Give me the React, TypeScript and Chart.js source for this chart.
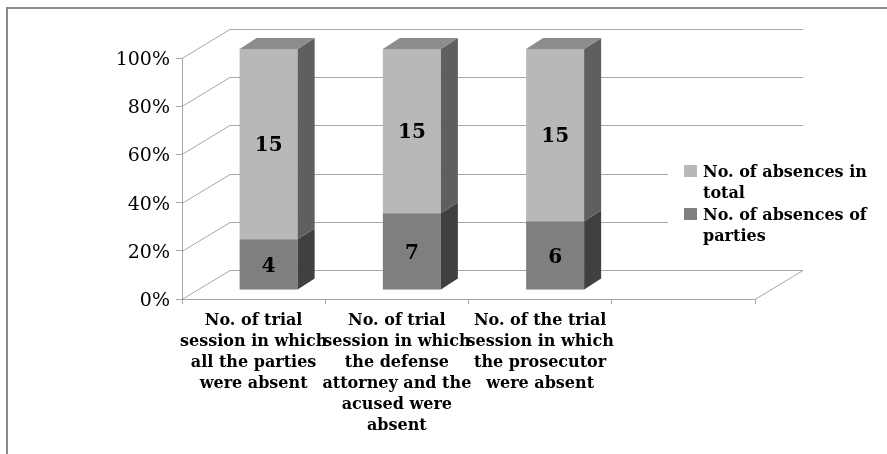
import React, { useEffect, useRef } from 'react';
import { Chart, registerables } from 'chart.js';

Chart.register(...registerables);

// Categories (the fourth slot is an empty category, as in the original workbook chart)
const categories: (string | string[])[] = [
  ['No. of trial', 'session in which', 'all the parties', 'were absent'],
  ['No. of trial', 'session in which', 'the defense', 'attorney and the', 'acused were', 'absent'],
  ['No. of the trial', 'session in which', 'the prosecutor', 'were absent'],
  '',
];

const partiesAbsences = [4, 7, 6];
const totalAbsences = [15, 15, 15];
const yTicks = [0, 20, 40, 60, 80, 100];

const seriesParties = 'No. of absences of parties';
const seriesTotal = 'No. of absences in total';
const legendEntries = [
  { lines: ['No. of absences in', 'total'], color: '#b8b8b8' },
  { lines: ['No. of absences of', 'parties'], color: '#7f7f7f' },
];

const FONT = '"DejaVu Serif", serif';
const GRID = '#a6a6a6';
const FRAME = '#8a8a8a';

// 3-D projection offsets (in px) for the walls and for the bar prisms
const WALL_DX = 48;
const WALL_DY = -29;
const BAR_DX = 15;
const BAR_DY = -9;
const SIDE_DX = 17;
const SIDE_DY = -11;

const FACE = {
  lower: { front: '#7f7f7f', side: '#404040' },
  upper: { front: '#b8b8b8', side: '#5f5f5f', top: '#8c8c8c' },
};

const share = (a: number, b: number) => (a / (a + b)) * 100;
const partiesShare = partiesAbsences.map((v, i) => share(v, totalAbsences[i]));
const totalShare = totalAbsences.map((v, i) => share(v, partiesAbsences[i]));
const rawValues = [partiesAbsences, totalAbsences];

const line = (ctx: CanvasRenderingContext2D, x1: number, y1: number, x2: number, y2: number) => {
  ctx.beginPath();
  ctx.moveTo(x1, y1);
  ctx.lineTo(x2, y2);
  ctx.stroke();
};

const poly = (ctx: CanvasRenderingContext2D, pts: number[][], fill: string) => {
  ctx.beginPath();
  ctx.moveTo(pts[0][0], pts[0][1]);
  for (let i = 1; i < pts.length; i++) ctx.lineTo(pts[i][0], pts[i][1]);
  ctx.closePath();
  ctx.fillStyle = fill;
  ctx.fill();
};

const box3d = {
  id: 'box3d',
  beforeDatasetsDraw(chart: any) {
    const { ctx, chartArea, scales } = chart;
    const y = scales.y;
    ctx.save();
    // outer frame (left and top edges)
    ctx.strokeStyle = FRAME;
    ctx.lineWidth = 2;
    line(ctx, 7, 8, 7, chart.height);
    line(ctx, 6, 8, chart.width, 8);
    ctx.strokeStyle = GRID;
    ctx.lineWidth = 1;
    for (const v of yTicks) {
      const py = Math.round(y.getPixelForValue(v)) + 0.5;
      // side wall diagonal
      line(ctx, chartArea.left, py, chartArea.left + WALL_DX, py + WALL_DY);
      // back wall gridline
      line(ctx, chartArea.left + WALL_DX, py + WALL_DY, chartArea.right + WALL_DX, py + WALL_DY);
    }
    // floor right edge
    const by = Math.round(chartArea.bottom) + 0.5;
    line(ctx, chartArea.right, by, chartArea.right + WALL_DX, by + WALL_DY);
    ctx.restore();
    // front faces are drawn by Chart.js, pushed back into the box
    ctx.save();
    ctx.translate(BAR_DX, BAR_DY);
  },
  afterDatasetsDraw(chart: any) {
    const { ctx } = chart;
    ctx.restore();
    ctx.save();
    const n = chart.data.datasets.length;
    for (let d = 0; d < n; d++) {
      const meta = chart.getDatasetMeta(d);
      const face = d === 0 ? FACE.lower : FACE.upper;
      meta.data.forEach((bar: any, i: number) => {
        const left = bar.x - bar.width / 2 + BAR_DX;
        const right = bar.x + bar.width / 2 + BAR_DX;
        const top = bar.y + BAR_DY;
        const bottom = bar.base + BAR_DY;
        poly(ctx, [[right, top], [right + SIDE_DX, top + SIDE_DY], [right + SIDE_DX, bottom + SIDE_DY], [right, bottom]], face.side);
        if (d === n - 1) {
          poly(ctx, [[left, top], [left + SIDE_DX, top + SIDE_DY], [right + SIDE_DX, top + SIDE_DY], [right, top]], (face as any).top);
        }
        ctx.fillStyle = '#000';
        ctx.font = `bold 20px ${FONT}`;
        ctx.textAlign = 'center';
        ctx.textBaseline = 'middle';
        ctx.fillText(String(rawValues[d][i]), (left + right) / 2, (top + bottom) / 2 + 2);
      });
    }
    ctx.restore();
  },
  afterDraw(chart: any) {
    const { ctx } = chart;
    ctx.save();
    ctx.fillStyle = '#fff';
    ctx.fillRect(668, 145, 219, 105);
    ctx.font = `bold 16px ${FONT}`;
    ctx.textAlign = 'left';
    ctx.textBaseline = 'alphabetic';
    legendEntries.forEach((e, k) => {
      const base = 177 + k * 43;
      ctx.fillStyle = e.color;
      ctx.fillRect(684, base - 12, 13, 12);
      ctx.fillStyle = '#000';
      e.lines.forEach((t, j) => ctx.fillText(t, 703, base + j * 21));
    });
    ctx.restore();
  },
};

export default function App() {
  const ref = useRef<HTMLCanvasElement>(null);

  useEffect(() => {
    if (!ref.current) return;
    const chart = new Chart(ref.current, {
      type: 'bar',
      data: {
        labels: categories as any,
        datasets: [
          {
            label: seriesParties,
            data: partiesShare,
            backgroundColor: FACE.lower.front,
            borderWidth: 0,
            clip: false as any,
          },
          {
            label: seriesTotal,
            data: totalShare,
            backgroundColor: FACE.upper.front,
            borderWidth: 0,
            clip: false as any,
          },
        ],
      },
      options: {
        responsive: false,
        animation: false,
        events: [],
        layout: { padding: { left: 0, top: 58, right: 132, bottom: 0 } },
        datasets: { bar: { barPercentage: 1, categoryPercentage: 0.405 } },
        plugins: { legend: { display: false }, tooltip: { enabled: false } },
        scales: {
          x: {
            stacked: true,
            offset: true,
            grid: { display: true, drawOnChartArea: false, drawTicks: true, tickLength: 5, color: GRID, offset: true },
            border: { display: true, color: GRID },
            ticks: {
              autoSkip: false,
              maxRotation: 0,
              minRotation: 0,
              padding: 6,
              color: '#000',
              font: { family: FONT, size: 16, weight: 'bold', lineHeight: 1.3125 },
            },
            afterFit(scale: any) {
              scale.height = 155;
            },
          },
          y: {
            stacked: true,
            min: 0,
            max: 100,
            grid: { display: true, drawOnChartArea: false, drawTicks: true, tickLength: 6, color: GRID },
            border: { display: true, color: GRID },
            ticks: {
              stepSize: 20,
              padding: 6,
              labelOffset: 2,
              color: '#000',
              font: { family: FONT, size: 19 },
              callback: (v: any) => `${v}%`,
            },
            afterFit(scale: any) {
              scale.width = 182;
            },
          },
        },
      },
      plugins: [box3d],
    });
    return () => chart.destroy();
  }, []);

  return (
    <div style={{ position: 'absolute', left: 0, top: 0, width: 887, height: 454, overflow: 'hidden', background: '#fff' }}>
      <canvas ref={ref} width={887} height={454} style={{ position: 'absolute', left: 0, top: 0 }} />
    </div>
  );
}
